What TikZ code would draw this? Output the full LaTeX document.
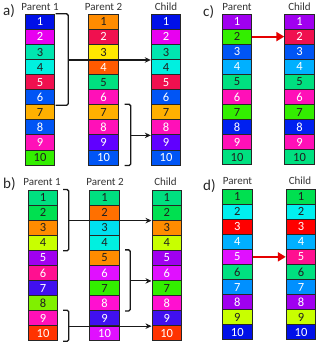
\documentclass[tikz,border=0pt]{standalone}
\usepackage{fontspec}
\setmainfont{Carlito}
\usetikzlibrary{arrows.meta}
\definecolor{cBlue}{HTML}{0010E8}
\definecolor{cMag}{HTML}{E800F0}
\definecolor{cAqua}{HTML}{00E6B0}
\definecolor{cCyan}{HTML}{00F0E0}
\definecolor{cCrim}{HTML}{F0104F}
\definecolor{cAzure}{HTML}{0055F5}
\definecolor{cAmber}{HTML}{FFB000}
\definecolor{cPink}{HTML}{FF10B8}
\definecolor{cLime}{HTML}{33EE00}
\definecolor{cOrange}{HTML}{FF8C00}
\definecolor{cYellow}{HTML}{FFE800}
\definecolor{cOrRed}{HTML}{FF5A00}
\definecolor{cMint}{HTML}{00E080}
\definecolor{cViolet}{HTML}{6000FF}
\definecolor{cIndigo}{HTML}{4010F0}
\definecolor{cPurple}{HTML}{A000F0}
\definecolor{cSky}{HTML}{00B0FF}
\definecolor{cNavy}{HTML}{0020F0}
\definecolor{cGreen}{HTML}{00E050}
\definecolor{cLemon}{HTML}{C8FF00}
\definecolor{cRose}{HTML}{FF1090}
\definecolor{cChart}{HTML}{80F000}
\definecolor{cRedOr}{HTML}{FF3300}
\definecolor{cOrTwo}{HTML}{FF7000}
\definecolor{cCyTwo}{HTML}{00E0F0}
\definecolor{cMagV}{HTML}{E010FF}
\definecolor{cMagP}{HTML}{FF10D0}
\definecolor{cRed}{HTML}{FF0000}
\definecolor{cDodger}{HTML}{0090FF}
\definecolor{cCyThree}{HTML}{00F0F0}
\definecolor{W}{HTML}{FFFFFF}
\definecolor{K}{HTML}{202020}
\definecolor{lbl}{HTML}{333333}
\newcommand\gcol[4]{%
  \foreach \fc/\tc [count=\i] in {#4} {%
    \node[cell,fill=\fc,text=\tc] (#1-\i) at (#2, #3+\i*15.08-7.54) {\i};}}
\begin{document}
\begin{tikzpicture}[x=1pt,y=-1pt,
  cell/.style={draw=black!85,line width=0.9pt,minimum width=29.5pt,minimum height=15.08pt,inner sep=0pt,font=\fontsize{12.5}{13}\selectfont},
  lab/.style={anchor=base,text=lbl,inner sep=0pt,font=\fontsize{11}{12}\selectfont},
  plab/.style={anchor=base west,text=black!85,inner sep=0pt,font=\fontsize{15}{16}\selectfont},
  brk/.style={line width=1.3pt,black!90,rounded corners=1.5pt},
  arr/.style={line width=1.1pt,black!90,-{Stealth[length=6pt,width=5.5pt]}},
  rarr/.style={line width=2.2pt,red!90!black,-{Triangle[length=8pt,width=9pt]}}]
\useasboundingbox (0,0) rectangle (320,344);
% ---------- a)
\node[plab] (la) at (3,15.5) {a)};
\node[lab] (laP1) at (40,10.5) {Parent 1};
\node[lab] (laP2) at (103.5,10.5) {Parent 2};
\node[lab] (laC) at (166,10.5) {Child};
\gcol{aP1}{40}{14.3}{cBlue/W,cMag/W,cAqua/K,cCyan/K,cCrim/W,cAzure/W,cAmber/K,cAzure/W,cPink/W,cLime/K}
\gcol{aP2}{103.5}{14.3}{cOrange/K,cCrim/W,cYellow/K,cOrRed/W,cMint/K,cPink/W,cAmber/K,cPink/W,cViolet/W,cAzure/W}
\gcol{aC}{166}{14.3}{cBlue/W,cMag/W,cAqua/K,cCyan/K,cCrim/W,cAzure/W,cAmber/K,cPink/W,cViolet/W,cAzure/W}
\draw[brk] ([xshift=0.5pt]aP1-1.north east) -- ++(12.5,0) |- ([xshift=0.5pt]aP1-6.south east);
\coordinate (abr1) at ([xshift=13pt]aP1-3.south east);
\draw[arr] (abr1) -- (aC-3.south west);
\draw[brk] ([xshift=6pt]aP2-7.north east) -- ++(6,0) |- ([xshift=6pt]aP2-10.south east);
\coordinate (abr2) at ([xshift=12pt]aP2-8.south east);
\draw[arr] (abr2) -- (aC-8.south west);
% ---------- c)
\node[plab] (lc) at (203,17) {c)};
\node[lab] (lcP) at (237,10.5) {Parent};
\node[lab] (lcC) at (299.5,10.5) {Child};
\gcol{cP}{237}{14}{cPurple/W,cLime/K,cAzure/W,cSky/W,cMint/K,cPink/W,cLime/K,cNavy/W,cPink/W,cMint/K}
\gcol{cC}{299.5}{14}{cPurple/W,cCrim/W,cAzure/W,cSky/W,cMint/K,cPink/W,cLime/K,cNavy/W,cPink/W,cMint/K}
\draw[rarr] (cP-2.east) -- (cC-2.west);
% ---------- b)
\node[plab] (lb) at (3,189) {b)};
\node[lab] (lbP1) at (42,185.5) {Parent 1};
\node[lab] (lbP2) at (105,185.5) {Parent 2};
\node[lab] (lbC) at (165.5,185.5) {Child};
\gcol{bP1}{43}{190}{cMint/K,cGreen/K,cOrange/K,cLemon/K,cPurple/W,cRose/W,cIndigo/W,cChart/K,cPink/W,cRedOr/W}
\gcol{bP2}{104.5}{190}{cMint/K,cOrTwo/K,cCyTwo/K,cCyan/K,cOrange/K,cMagV/W,cLime/K,cMagP/W,cIndigo/W,cMagV/W}
\gcol{bC}{166.7}{190}{cMint/K,cGreen/K,cOrange/K,cLemon/K,cPurple/W,cMagV/W,cLime/K,cMagP/W,cIndigo/W,cRedOr/W}
\draw[brk] ([xshift=5pt]bP1-1.north east) -- ++(5.5,0) |- ([xshift=5pt]bP1-4.south east);
\coordinate (bbr1) at ([xshift=10.5pt]bP1-2.south east);
\draw[arr] (bbr1) -- (bC-2.south west);
\draw[brk] ([xshift=5.5pt]bP2-5.north east) -- ++(5,0) |- ([xshift=5.5pt]bP2-8.south east);
\coordinate (bbr2) at ([xshift=10.5pt]bP2-6.south east);
\draw[arr] (bbr2) -- (bC-6.south west);
\draw[brk] ([xshift=5pt]bP1-9.north east) -- ++(5.5,0) |- ([xshift=5pt]bP1-10.south east);
\coordinate (bbr3) at ([xshift=10.5pt]bP1-9.south east);
\draw[arr] (bbr3) -- (bC-9.south west);
% ---------- d)
\node[plab] (ld) at (203,190) {d)};
\node[lab] (ldP) at (237.5,185) {Parent};
\node[lab] (ldC) at (300,185) {Child};
\gcol{dP}{237.3}{189}{cGreen/K,cCyThree/K,cRed/W,cSky/W,cMagV/W,cMint/K,cDodger/W,cPurple/W,cLemon/K,cBlue/W}
\gcol{dC}{301}{189}{cGreen/K,cCyThree/K,cRed/W,cSky/W,cRose/W,cMint/K,cDodger/W,cPurple/W,cLemon/K,cBlue/W}
\draw[rarr] (dP-5.east) -- (dC-5.west);
\end{tikzpicture}
\end{document}
